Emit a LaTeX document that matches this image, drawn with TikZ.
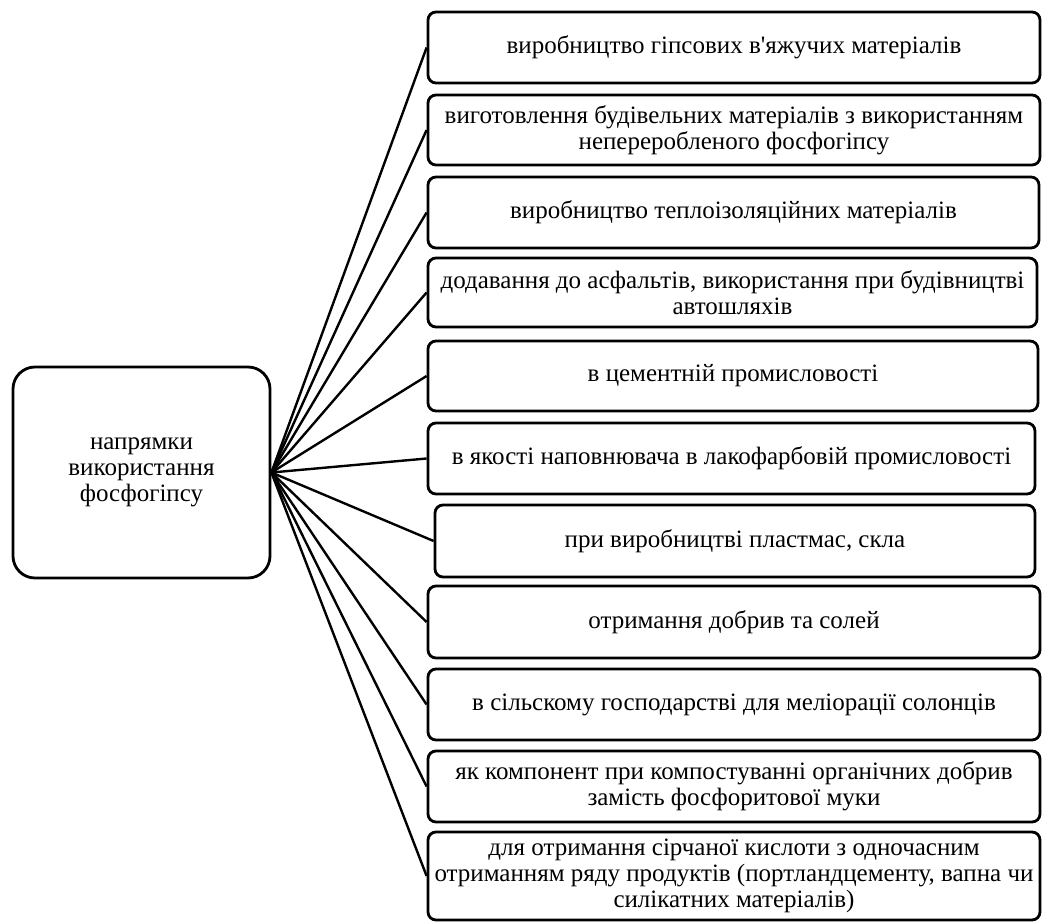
\documentclass[tikz,border=0pt]{standalone}
\usepackage{fontspec}
\setmainfont{Liberation Serif}
\begin{document}
\begin{tikzpicture}[x=1pt,y=-1pt,
  txt/.style={font=\fontsize{25}{26}\selectfont, align=center, inner sep=0pt},
  box/.style={txt, draw, line width=2.8pt, rounded corners=8pt},
  hub/.style={txt, draw, line width=2.8pt, rounded corners=22pt},
  link/.style={line width=2.4pt}]
\useasboundingbox (0,0) rectangle (1043,923);
\node[hub, minimum width=257pt, minimum height=211pt] (c) at (141.5,472.5) {напрямки\\використання\\фосфогіпсу};
\node[box, minimum width=612pt, minimum height=71pt] (b1) at (734,47.5) {виробництво гіпсових в\textquotesingle яжучих матеріалів};
\node[box, minimum width=612pt, minimum height=70pt] (b2) at (734,130) {виготовлення будівельних матеріалів з використанням\\непереробленого фосфогіпсу};
\node[box, minimum width=611pt, minimum height=71pt] (b3) at (733.5,212.5) {виробництво теплоізоляційних матеріалів};
\node[box, minimum width=609pt, minimum height=69pt] (b4) at (732.5,292.5) {додавання до асфальтів, використання при будівництві\\автошляхів};
\node[box, minimum width=610pt, minimum height=70pt] (b5) at (733,376) {в цементній промисловості};
\node[box, minimum width=607pt, minimum height=71pt] (b6) at (731.5,458.5) {в якості наповнювача в лакофарбовій промисловості};
\node[box, minimum width=600pt, minimum height=72pt] (b7) at (735,541) {при виробництві пластмас, скла};
\node[box, minimum width=612pt, minimum height=72pt] (b8) at (734,622) {отримання добрив та солей};
\node[box, minimum width=612pt, minimum height=71pt] (b9) at (734,704.5) {в сільскому господарстві для меліорації солонців};
\node[box, minimum width=612pt, minimum height=71pt] (b10) at (734,786.5) {як компонент при компостуванні органічних добрив\\замість фосфоритової муки};
\node[box, minimum width=612pt, minimum height=88pt] (b11) at (734,876) {для отримання сірчаної кислоти з одночасним\\отриманням ряду продуктів (портландцементу, вапна чи\\силікатних матеріалів)};
\foreach \i in {1,...,11} \draw[link] (c.east) -- (b\i.west);
\end{tikzpicture}
\end{document}
